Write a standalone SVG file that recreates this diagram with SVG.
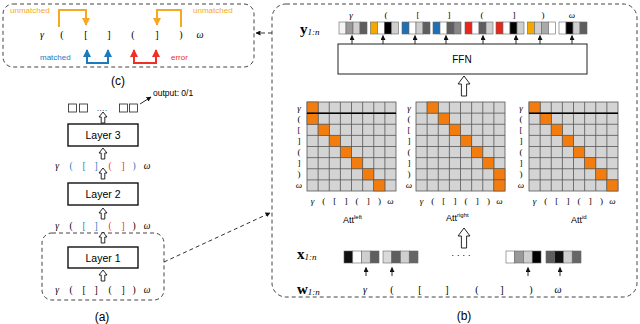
<svg xmlns="http://www.w3.org/2000/svg" xmlns:xlink="http://www.w3.org/1999/xlink" width="640" height="324" viewBox="0 0 640 324">
<style>
.sans{font-family:"Liberation Sans",Arial,sans-serif;}
.ser{font-family:"Liberation Serif","Times New Roman",serif;}
.gk{font-family:"Liberation Serif","Times New Roman",serif;font-style:italic;}
.box{fill:#fff;stroke:#111;stroke-width:1.4;}
.dash{fill:none;stroke:#444;stroke-width:1;stroke-dasharray:4,3;}
.hol{fill:#fff;stroke:#111;stroke-width:0.9;}
.cell{stroke:#666;stroke-width:0.6;}
.mbg{fill:#d4d4d4;stroke:#555;stroke-width:0.8;}
.grid{fill:none;stroke:#555;stroke-width:0.8;}
.org{fill:#f27c0e;stroke:#555;stroke-width:0.6;}
.sarr{stroke:#111;stroke-width:0.9;fill:none;}
</style>
<defs>
<marker id="ah" markerWidth="5" markerHeight="5" refX="4.5" refY="2.5" orient="auto" markerUnits="userSpaceOnUse"><path d="M0,0 L5,2.5 L0,5 z" fill="#111"/></marker>
<marker id="ao" markerWidth="8" markerHeight="8" refX="7" refY="4" orient="auto-start-reverse" markerUnits="userSpaceOnUse"><path d="M0,0 L8,4 L0,8 z" fill="#f7a823"/></marker>
<marker id="ab" markerWidth="8" markerHeight="8" refX="7" refY="4" orient="auto-start-reverse" markerUnits="userSpaceOnUse"><path d="M0,0 L8,4 L0,8 z" fill="#1b7ac0"/></marker>
<marker id="ar" markerWidth="8" markerHeight="8" refX="7" refY="4" orient="auto-start-reverse" markerUnits="userSpaceOnUse"><path d="M0,0 L8,4 L0,8 z" fill="#ee3124"/></marker>
<path id="hs" d="M0,0 L4,5 L1.8,5 L1.8,11 L-1.8,11 L-1.8,5 L-4,5 Z"/>
<path id="hb" d="M0,0 L6,8 L2.6,8 L2.6,20 L-2.6,20 L-2.6,8 L-6,8 Z"/>
<path id="gl" d="M11.125,0V89M22.25,0V89M33.375,0V89M44.5,0V89M55.625,0V89M66.75,0V89M77.875,0V89M0,11.125H89M0,22.25H89M0,33.375H89M0,44.5H89M0,55.625H89M0,66.75H89M0,77.875H89"/>
</defs>

<!-- Panel (c) -->
<g id="panel-c">
<rect class="dash" x="3" y="4" width="251" height="63" rx="10"/>
<g font-size="10" text-anchor="middle">
<text class="gk" x="42" y="38">γ</text>
<text class="ser" x="62" y="38">(</text>
<text class="ser" x="86" y="38">[</text>
<text class="ser" x="109" y="38">]</text>
<text class="ser" x="133" y="38">(</text>
<text class="ser" x="157" y="38">]</text>
<text class="ser" x="181" y="38">)</text>
<text class="gk" x="200" y="38">ω</text>
</g>
<path d="M59,27 V10 H86 V25" fill="none" stroke="#f7a823" stroke-width="2" marker-end="url(#ao)"/>
<path d="M181,27 V10 H157 V25" fill="none" stroke="#f7a823" stroke-width="2" marker-end="url(#ao)"/>
<path d="M87,50 V63 H108 V50" fill="none" stroke="#1b7ac0" stroke-width="2" marker-start="url(#ab)" marker-end="url(#ab)"/>
<path d="M134,50 V63 H156 V50" fill="none" stroke="#ee3124" stroke-width="2" marker-start="url(#ar)" marker-end="url(#ar)"/>
<g class="sans" font-size="8">
<text x="10" y="13" fill="#f7a823">unmatched</text>
<text x="193" y="13" fill="#f7a823">unmatched</text>
<text x="40" y="60" fill="#1b7ac0">matched</text>
<text x="171" y="60" fill="#ee3124">error</text>
</g>
<text class="sans" x="118" y="85" font-size="12" text-anchor="middle">(c)</text>
</g>

<!-- Panel (a) -->
<g id="panel-a">
<g fill="#fff" stroke="#222" stroke-width="0.8">
<rect x="68.5" y="104" width="8" height="8"/>
<rect x="79.5" y="104" width="8" height="8"/>
<rect x="119.5" y="104" width="8" height="8"/>
<rect x="129.5" y="104" width="8" height="8"/>
</g>
<text class="sans" x="102" y="113" font-size="8" text-anchor="middle">····</text>
<text class="sans" x="153" y="96" font-size="8.5">output: 0/1</text>
<use xlink:href="#hs" class="hol" x="103" y="112"/>
<g id="layer3"><rect class="box" x="68" y="124" width="70" height="22"/><text class="sans" x="103" y="139" font-size="10.5" text-anchor="middle">Layer 3</text></g>
<use xlink:href="#hs" class="hol" x="103" y="148"/>
<g font-size="9.5" text-anchor="middle">
<text class="gk" x="57" y="169">γ</text>
<text class="ser" x="71" y="169" fill="#1b7ac0">(</text>
<text class="ser" x="84" y="169" fill="#1b7ac0">[</text>
<text class="ser" x="96" y="169" fill="#1b7ac0">]</text>
<text class="ser" x="110" y="169" fill="#ee3124">(</text>
<text class="ser" x="123" y="169" fill="#ee3124">]</text>
<text class="ser" x="134" y="169" fill="#1b7ac0">)</text>
<text class="gk" x="147" y="169">ω</text>
</g>
<use xlink:href="#hs" class="hol" x="103" y="168"/>
<g id="layer2"><rect class="box" x="68" y="183" width="70" height="22"/><text class="sans" x="103" y="198" font-size="10.5" text-anchor="middle">Layer 2</text></g>
<use xlink:href="#hs" class="hol" x="103" y="208"/>
<g font-size="9.5" text-anchor="middle">
<text class="gk" x="57" y="229">γ</text>
<text class="ser" x="71" y="229">(</text>
<text class="ser" x="84" y="229" fill="#1b7ac0">[</text>
<text class="ser" x="96" y="229" fill="#1b7ac0">]</text>
<text class="ser" x="110" y="229" fill="#ee3124">(</text>
<text class="ser" x="123" y="229" fill="#ee3124">]</text>
<text class="ser" x="134" y="229">)</text>
<text class="gk" x="147" y="229">ω</text>
</g>
<rect class="dash" x="42" y="233" width="122" height="67" rx="10"/>
<use xlink:href="#hs" class="hol" x="103" y="232"/>
<g id="layer1"><rect class="box" x="68" y="247" width="70" height="21"/><text class="sans" x="103" y="261.5" font-size="10.5" text-anchor="middle">Layer 1</text></g>
<use xlink:href="#hs" class="hol" x="103" y="270"/>
<g font-size="9.5" text-anchor="middle">
<text class="gk" x="57" y="293">γ</text>
<text class="ser" x="71" y="293">(</text>
<text class="ser" x="84" y="293">[</text>
<text class="ser" x="96" y="293">]</text>
<text class="ser" x="110" y="293">(</text>
<text class="ser" x="123" y="293">]</text>
<text class="ser" x="134" y="293">)</text>
<text class="gk" x="147" y="293">ω</text>
</g>
<text class="sans" x="102" y="321" font-size="12" text-anchor="middle">(a)</text>
</g>

<!-- Panel (b) -->
<g id="panel-b">
<rect class="dash" x="272" y="4" width="365" height="293" rx="14"/>
<text class="ser" x="300" y="34" font-size="15" font-weight="bold">y<tspan font-size="9" font-weight="normal" font-style="italic" dy="1">1:n</tspan></text>
<g font-size="9" text-anchor="middle">
<text class="gk" x="351" y="18">γ</text>
<text class="ser" x="386" y="18">(</text>
<text class="ser" x="418" y="18">[</text>
<text class="ser" x="449" y="18">]</text>
<text class="ser" x="482" y="18">(</text>
<text class="ser" x="514" y="18">]</text>
<text class="ser" x="543" y="18">)</text>
<text class="gk" x="572" y="18">ω</text>
</g>
<g id="y-vectors">
<g transform="translate(339,22)"><rect class="cell" x="0" width="7" height="12" fill="#f4f4f4"/><rect class="cell" x="7" width="7" height="12" fill="#999"/><rect class="cell" x="14" width="7" height="12" fill="#cfcfcf"/><rect class="cell" x="21" width="7" height="12" fill="#5e5e5e"/></g>
<g transform="translate(370.5,22)"><rect class="cell" x="0" width="7" height="12" fill="#f5a800"/><rect class="cell" x="7" width="7" height="12" fill="#fff"/><rect class="cell" x="14" width="7" height="12" fill="#000"/><rect class="cell" x="21" width="7" height="12" fill="#cfcfcf"/></g>
<g transform="translate(402,22)"><rect class="cell" x="0" width="7" height="12" fill="#1f6fb5"/><rect class="cell" x="7" width="7" height="12" fill="#fff"/><rect class="cell" x="14" width="7" height="12" fill="#cfcfcf"/><rect class="cell" x="21" width="7" height="12" fill="#5e5e5e"/></g>
<g transform="translate(433,22)"><rect class="cell" x="0" width="7" height="12" fill="#1f6fb5"/><rect class="cell" x="7" width="7" height="12" fill="#fff"/><rect class="cell" x="14" width="7" height="12" fill="#5e5e5e"/><rect class="cell" x="21" width="7" height="12" fill="#888"/></g>
<g transform="translate(465,22)"><rect class="cell" x="0" width="7" height="12" fill="#e8261a"/><rect class="cell" x="7" width="7" height="12" fill="#fff"/><rect class="cell" x="14" width="7" height="12" fill="#5e5e5e"/><rect class="cell" x="21" width="7" height="12" fill="#cfcfcf"/></g>
<g transform="translate(496,22)"><rect class="cell" x="0" width="7" height="12" fill="#e8261a"/><rect class="cell" x="7" width="7" height="12" fill="#fff"/><rect class="cell" x="14" width="7" height="12" fill="#000"/><rect class="cell" x="21" width="7" height="12" fill="#cfcfcf"/></g>
<g transform="translate(527.5,22)"><rect class="cell" x="0" width="7" height="12" fill="#f5a800"/><rect class="cell" x="7" width="7" height="12" fill="#cfcfcf"/><rect class="cell" x="14" width="7" height="12" fill="#aaa"/><rect class="cell" x="21" width="7" height="12" fill="#fff"/></g>
<g transform="translate(559,22)"><rect class="cell" x="0" width="7" height="12" fill="#fff"/><rect class="cell" x="7" width="7" height="12" fill="#000"/><rect class="cell" x="14" width="7" height="12" fill="#cfcfcf"/><rect class="cell" x="21" width="7" height="12" fill="#5e5e5e"/></g>
</g>
<g class="sarr" marker-end="url(#ah)">
<path d="M352,44V35.5"/><path d="M383,44V35.5"/><path d="M415,44V35.5"/><path d="M446,44V35.5"/>
<path d="M483,44V35.5"/><path d="M516,44V35.5"/><path d="M540,44V35.5"/><path d="M572,44V35.5"/>
</g>
<g id="ffn"><rect x="338" y="44" width="249" height="30" fill="#fff" stroke="#222" stroke-width="1"/><text class="sans" x="462" y="63" font-size="10" text-anchor="middle">FFN</text></g>
<use xlink:href="#hb" class="hol" x="464" y="76"/>

<g id="att-left" transform="translate(307,102)">
<rect class="mbg" width="89" height="89"/>
<use xlink:href="#gl" class="grid"/>
<rect class="org" x="0" y="0" width="11.125" height="11.125"/>
<rect class="org" x="0" y="11.125" width="11.125" height="11.125"/>
<rect class="org" x="11.125" y="22.25" width="11.125" height="11.125"/>
<rect class="org" x="22.25" y="33.375" width="11.125" height="11.125"/>
<rect class="org" x="33.375" y="44.5" width="11.125" height="11.125"/>
<rect class="org" x="44.5" y="55.625" width="11.125" height="11.125"/>
<rect class="org" x="55.625" y="66.75" width="11.125" height="11.125"/>
<rect class="org" x="66.75" y="77.875" width="11.125" height="11.125"/>
<path d="M0,11.125H89" stroke="#000" stroke-width="1.5"/>
</g>
<g id="att-right" transform="translate(416,102)">
<rect class="mbg" width="89" height="89"/>
<use xlink:href="#gl" class="grid"/>
<rect class="org" x="11.125" y="0" width="11.125" height="11.125"/>
<rect class="org" x="22.25" y="11.125" width="11.125" height="11.125"/>
<rect class="org" x="33.375" y="22.25" width="11.125" height="11.125"/>
<rect class="org" x="44.5" y="33.375" width="11.125" height="11.125"/>
<rect class="org" x="55.625" y="44.5" width="11.125" height="11.125"/>
<rect class="org" x="66.75" y="55.625" width="11.125" height="11.125"/>
<rect class="org" x="77.875" y="66.75" width="11.125" height="11.125"/>
<rect class="org" x="77.875" y="77.875" width="11.125" height="11.125"/>
</g>
<g id="att-id" transform="translate(529,102)">
<rect class="mbg" width="89" height="89"/>
<use xlink:href="#gl" class="grid"/>
<rect class="org" x="0" y="0" width="11.125" height="11.125"/>
<rect class="org" x="11.125" y="11.125" width="11.125" height="11.125"/>
<rect class="org" x="22.25" y="22.25" width="11.125" height="11.125"/>
<rect class="org" x="33.375" y="33.375" width="11.125" height="11.125"/>
<rect class="org" x="44.5" y="44.5" width="11.125" height="11.125"/>
<rect class="org" x="55.625" y="55.625" width="11.125" height="11.125"/>
<rect class="org" x="66.75" y="66.75" width="11.125" height="11.125"/>
<rect class="org" x="77.875" y="77.875" width="11.125" height="11.125"/>
<path d="M0,11.125H89" stroke="#000" stroke-width="1.5"/>
</g>

<!-- matrix labels -->
<g font-size="9" text-anchor="middle">
<g id="rows-left">
<text class="gk" x="299" y="110.5">γ</text><text class="ser" x="299" y="121.5">(</text><text class="ser" x="299" y="132.5">[</text><text class="ser" x="299" y="143.5">]</text><text class="ser" x="299" y="155">(</text><text class="ser" x="299" y="166">]</text><text class="ser" x="299" y="177">)</text><text class="gk" x="299" y="188">ω</text>
</g>
<g id="rows-right">
<text class="gk" x="409" y="110.5">γ</text><text class="ser" x="409" y="121.5">(</text><text class="ser" x="409" y="132.5">[</text><text class="ser" x="409" y="143.5">]</text><text class="ser" x="409" y="155">(</text><text class="ser" x="409" y="166">]</text><text class="ser" x="409" y="177">)</text><text class="gk" x="409" y="188">ω</text>
</g>
<g id="rows-id">
<text class="gk" x="521" y="110.5">γ</text><text class="ser" x="521" y="121.5">(</text><text class="ser" x="521" y="132.5">[</text><text class="ser" x="521" y="143.5">]</text><text class="ser" x="521" y="155">(</text><text class="ser" x="521" y="166">]</text><text class="ser" x="521" y="177">)</text><text class="gk" x="521" y="188">ω</text>
</g>
<g id="cols-left">
<text class="gk" x="312.6" y="204">γ</text><text class="ser" x="323.7" y="204">(</text><text class="ser" x="334.8" y="204">[</text><text class="ser" x="346" y="204">]</text><text class="ser" x="357.1" y="204">(</text><text class="ser" x="368.2" y="204">]</text><text class="ser" x="379.4" y="204">)</text><text class="gk" x="390.5" y="204">ω</text>
</g>
<g id="cols-right">
<text class="gk" x="421.6" y="204">γ</text><text class="ser" x="432.7" y="204">(</text><text class="ser" x="443.8" y="204">[</text><text class="ser" x="455" y="204">]</text><text class="ser" x="466.1" y="204">(</text><text class="ser" x="477.2" y="204">]</text><text class="ser" x="488.4" y="204">)</text><text class="gk" x="499.5" y="204">ω</text>
</g>
<g id="cols-id">
<text class="gk" x="534.6" y="204">γ</text><text class="ser" x="545.7" y="204">(</text><text class="ser" x="556.8" y="204">[</text><text class="ser" x="568" y="204">]</text><text class="ser" x="579.1" y="204">(</text><text class="ser" x="590.2" y="204">]</text><text class="ser" x="601.4" y="204">)</text><text class="gk" x="612.5" y="204">ω</text>
</g>
</g>
<g class="sans" font-size="9">
<text x="343" y="223">Att<tspan font-size="6" dy="-4">left</tspan></text>
<text x="446" y="221">Att<tspan font-size="6" dy="-4">right</tspan></text>
<text x="571" y="223">Att<tspan font-size="6" dy="-4">id</tspan></text>
</g>
<use xlink:href="#hb" class="hol" x="464" y="228"/>

<text class="ser" x="297" y="259" font-size="15" font-weight="bold">x<tspan font-size="9" font-weight="normal" font-style="italic" dy="1">1:n</tspan></text>
<g id="x-vectors">
<g transform="translate(344,251)"><rect class="cell" x="0" width="8.75" height="12" fill="#111"/><rect class="cell" x="8.75" width="8.75" height="12" fill="#fff"/><rect class="cell" x="17.5" width="8.75" height="12" fill="#cfcfcf"/><rect class="cell" x="26.25" width="8.75" height="12" fill="#5e5e5e"/></g>
<g transform="translate(383,251)"><rect class="cell" x="0" width="8.75" height="12" fill="#dadada"/><rect class="cell" x="8.75" width="8.75" height="12" fill="#5e5e5e"/><rect class="cell" x="17.5" width="8.75" height="12" fill="#cfcfcf"/><rect class="cell" x="26.25" width="8.75" height="12" fill="#666"/></g>
<g transform="translate(506,251)"><rect class="cell" x="0" width="8.75" height="12" fill="#fff"/><rect class="cell" x="8.75" width="8.75" height="12" fill="#999"/><rect class="cell" x="17.5" width="8.75" height="12" fill="#cfcfcf"/><rect class="cell" x="26.25" width="8.75" height="12" fill="#000"/></g>
<g transform="translate(546,251)"><rect class="cell" x="0" width="8.75" height="12" fill="#5e5e5e"/><rect class="cell" x="8.75" width="8.75" height="12" fill="#111"/><rect class="cell" x="17.5" width="8.75" height="12" fill="#cfcfcf"/><rect class="cell" x="26.25" width="8.75" height="12" fill="#666"/></g>
</g>
<text class="sans" x="461" y="258" font-size="9" text-anchor="middle">· · · ·</text>
<g class="sarr" marker-end="url(#ah)">
<path d="M366,276V267.5"/><path d="M392,276V267.5"/><path d="M528,276V267.5"/><path d="M560,276V267.5"/>
</g>
<text class="ser" x="297" y="294" font-size="15" font-weight="bold">w<tspan font-size="9" font-weight="normal" font-style="italic" dy="1">1:n</tspan></text>
<g font-size="10" text-anchor="middle">
<text class="gk" x="365" y="293">γ</text>
<text class="ser" x="392" y="293">(</text>
<text class="ser" x="420" y="293">[</text>
<text class="ser" x="447" y="293">]</text>
<text class="ser" x="477" y="293">(</text>
<text class="ser" x="502" y="293">]</text>
<text class="ser" x="531" y="293">)</text>
<text class="gk" x="558" y="293">ω</text>
</g>
<text class="sans" x="464" y="320" font-size="12" text-anchor="middle">(b)</text>
</g>

<!-- connectors -->
<g id="connectors">
<path d="M140,104 L151,97" class="sarr" marker-end="url(#ah)"/>
<path d="M164,262 L270,213" fill="none" stroke="#333" stroke-width="1" stroke-dasharray="4,3" marker-end="url(#ah)"/>
<path d="M272,33 L256,33" fill="none" stroke="#333" stroke-width="1" stroke-dasharray="4,3" marker-end="url(#ah)"/>
</g>
</svg>
